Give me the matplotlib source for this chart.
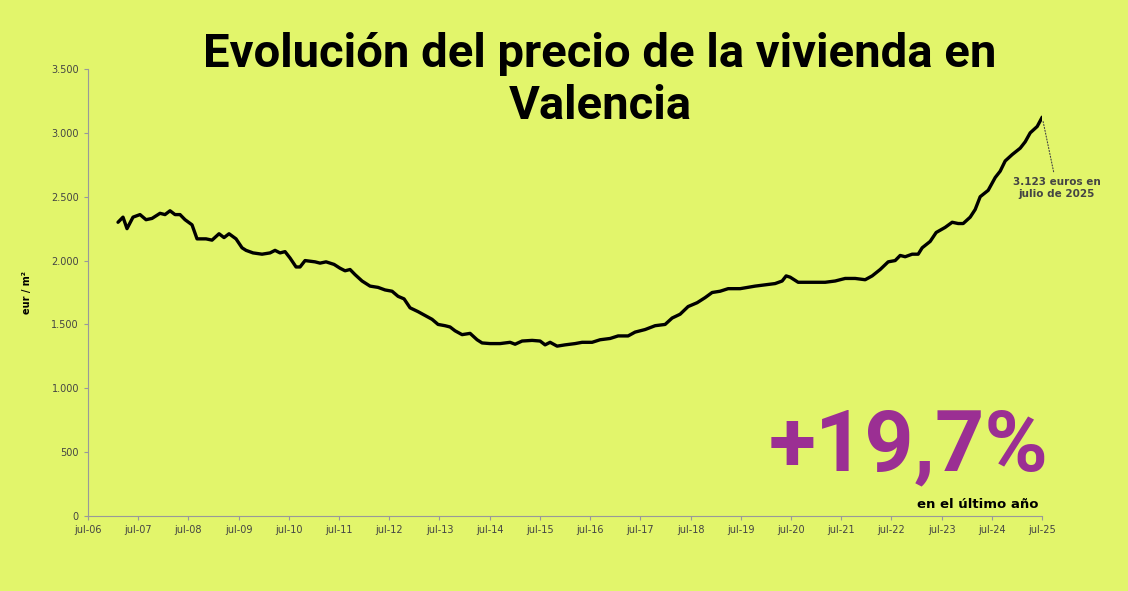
import matplotlib
matplotlib.use("Agg")
import matplotlib.pyplot as plt

px = [118,123,127,133,140,146,152,160,165,170,175,180,185,192,197,206,212,219,224,229,236,242,246,253,262,270,275,280,285,290,296,300,305,315,320,326,334,340,345,350,355,362,370,378,385,392,398,404,410,418,425,432,438,445,450,455,462,470,477,482,490,500,510,515,522,532,540,545,550,557,565,575,582,592,600,610,618,628,635,645,655,665,672,680,688,697,705,712,720,728,740,755,765,775,782,786,790,798,810,825,835,845,855,865,872,880,888,895,900,905,912,918,922,930,936,945,952,958,963,970,975,980,988,995,1000,1005,1012,1020,1025,1030,1037,1042]
values = [2300,2340,2250,2340,2360,2320,2330,2370,2360,2390,2360,2360,2320,2280,2170,2170,2160,2210,2180,2210,2170,2100,2080,2060,2050,2060,2080,2060,2070,2020,1950,1950,2000,1990,1980,1990,1970,1940,1920,1930,1890,1840,1800,1790,1770,1760,1720,1700,1630,1600,1570,1540,1500,1490,1480,1450,1420,1430,1380,1355,1350,1350,1360,1345,1370,1375,1370,1340,1360,1330,1340,1350,1360,1360,1380,1390,1410,1410,1440,1460,1490,1500,1550,1580,1640,1670,1710,1750,1760,1780,1780,1800,1810,1820,1840,1880,1870,1830,1830,1830,1840,1860,1860,1850,1880,1930,1990,2000,2040,2030,2050,2050,2100,2150,2220,2260,2300,2290,2290,2340,2400,2500,2550,2650,2700,2780,2830,2880,2930,3000,3050,3123]
years = [2006.5 + (p - 88) / 50.2 for p in px]
tick_years = list(range(2006, 2026))
tick_labels = [f"jul-{y % 100:02d}" for y in tick_years]
yticks = [0,500,1000,1500,2000,2500,3000,3500]
ytick_labels = ["0","500","1.000","1.500","2.000","2.500","3.000","3.500"]

bg = "#e2f56b"
fig = plt.figure(figsize=(11.28, 5.91), dpi=100, facecolor=bg)
ax = fig.add_axes([88/1128, 1-516/591, (1042-88)/1128, (516-69)/591], facecolor=bg)
ax.plot(years, values, color="black", lw=2.4, solid_capstyle="round")
ax.set_xlim(2006.5, 2025.5)
ax.set_ylim(0, 3500)
ax.set_xticks([y + 0.5 for y in tick_years])
ax.set_xticklabels(tick_labels, fontsize=7, color="#444")
ax.set_yticks(yticks)
ax.set_yticklabels(ytick_labels, fontsize=7, color="#444")
for s in ["top", "right"]:
    ax.spines[s].set_visible(False)
for s in ["left", "bottom"]:
    ax.spines[s].set_color("#999")
ax.tick_params(length=3, colors="#999", labelcolor="#444")
ax.set_ylabel("eur / m²", fontsize=7, fontweight="bold", labelpad=14)

fig.text(600/1128, 1-80/591, "Evolución del precio de la vivienda en\nValencia", ha="center", va="center",
         fontsize=34, fontweight="bold", family="Roboto", linespacing=1.25)
ax.annotate("3.123 euros en\njulio de 2025", xy=(years[-1], values[-1]), xytext=(1057/1128, 1-188/591),
            textcoords="figure fraction", ha="center", va="center", fontsize=7.5, fontweight="bold", color="#444",
            arrowprops=dict(arrowstyle="-", ls=":", color="#444", lw=0.8))
fig.text(909/1128, 1-447/591, "+19,7%", ha="center", va="center", fontsize=62, fontweight="bold",
         color="#9b2f93", family="Roboto")
fig.text(978/1128, 1-505/591, "en el último año", ha="center", va="center", fontsize=9.5, fontweight="bold")
fig.savefig("out.png", dpi=100, facecolor=bg)
